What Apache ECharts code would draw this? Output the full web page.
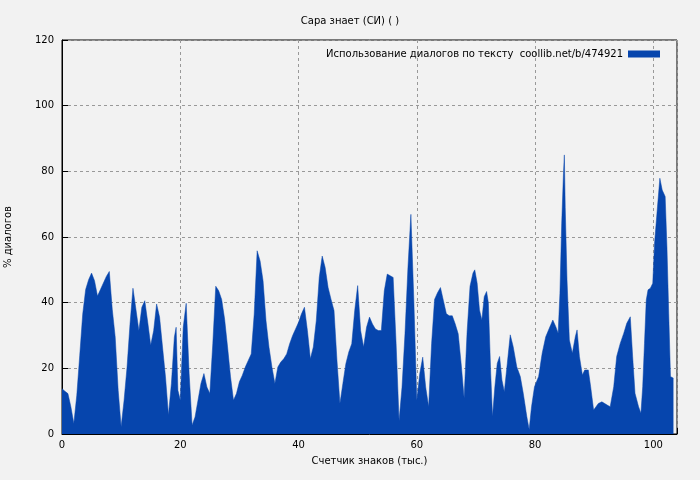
<!DOCTYPE html>
<html>
<head>
<meta charset="utf-8">
<script src="https://cdn.jsdelivr.net/npm/echarts@6/dist/echarts.min.js"></script>
<style>
  html, body { margin: 0; padding: 0; background: #f2f2f2; }
  #chart { width: 700px; height: 480px; }
</style>
</head>
<body>
<div id="chart"></div>
<script>
// x positions (thousands of characters) and dialogue share (%)
var xs = [0, 0.5, 1, 1.5, 2, 2.5, 3, 3.5, 4, 4.5, 5, 5.5, 6, 6.5, 7, 7.5, 8, 8.5, 9, 9.5,
    10, 10.5, 11, 11.5, 12, 12.5, 13, 13.5, 14, 14.5, 15, 15.5, 16, 16.5, 17, 17.5, 18, 18.5, 19, 19.3, 19.6,
    20, 20.5, 21, 21.5, 22, 22.5, 23, 23.5, 24, 24.5, 25, 25.5, 26, 26.5, 27, 27.5, 28, 28.5, 29, 29.5,
    30, 30.5, 31, 31.5, 32, 32.5, 33, 33.5, 34, 34.5, 35, 35.5, 36, 36.5, 37, 37.5, 38, 38.5, 39, 39.5,
    40, 40.5, 41, 41.5, 42, 42.5, 43, 43.5, 44, 44.5, 45, 45.5, 46, 46.5, 47, 47.5, 48, 48.5, 49, 49.5,
    50, 50.5, 51, 51.5, 52, 52.5, 53, 53.5, 54, 54.5, 55, 55.5, 56, 56.5, 57, 57.5, 58, 58.5, 59, 59.5,
    60, 60.5, 61, 61.5, 62, 62.5, 63, 63.5, 64, 64.5, 65, 65.5, 66, 66.5, 67, 67.5, 68,
    68.5, 69, 69.5, 69.8, 70.2, 70.6, 71, 71.4, 71.8, 72.1, 72.5, 72.8, 73.2, 73.6, 74, 74.4, 74.8,
    75.3, 75.8, 76.3, 76.9, 77.5, 78, 78.6, 79, 79.4, 79.9, 80.6, 81.2, 81.8, 82.4, 83, 83.5, 83.9,
    84.2, 84.5, 84.8, 84.95, 85.1, 85.4, 85.8, 86.3, 86.8, 87.1, 87.5, 88, 88.4, 89, 89.4, 89.9,
    90.7, 91.3, 92.2, 92.7, 93.3, 93.8, 94.4, 95, 95.5, 96.1, 96.5, 96.9, 97.5, 97.9, 98.2, 98.5,
    98.8, 99.1, 99.5, 99.9, 100.2, 100.7, 101.1, 101.5, 102, 102.3, 102.6, 102.9, 103.4];
var ys = [13.8, 13, 12.3, 8.3, 3.2, 11.8, 24, 36.5, 44, 47, 49, 46.7, 42, 44, 46, 48, 49.5, 38, 29.5, 13.3,
    2.2, 10.3, 20.4, 33.5, 44.4, 38, 31.5, 38.6, 40.6, 34, 27, 31.5, 39.6, 35.6, 26.5, 17.4, 5.8, 15.4, 29.5, 32.5, 13.3,
    10.3, 32.5, 39.8, 18.4, 2.7, 5.2, 10.3, 15.4, 18.4, 14.3, 12.3, 27.5, 45, 43.6, 41, 35, 26.5, 17.4, 10.3, 12.3,
    15.9, 17.9, 20.4, 22.4, 24.4, 36.5, 55.8, 52.7, 46.7, 34.5, 26.5, 20.4, 15.4, 20.4, 21.9, 22.9, 24.4, 27.5, 30, 32,
    34, 36.6, 38.6, 31.5, 22.9, 26.5, 34.5, 47.7, 54.2, 50.7, 44.6, 41, 37.6, 22.4, 9.3, 15.4, 21.4, 25, 27.5, 37.6,
    45.2, 31.5, 26.5, 32.5, 35.6, 33.5, 32, 31.5, 31.5, 43.6, 48.7, 48.2, 47.7, 27.5, 4, 14.3, 30.5, 50.7, 66.9, 40.6,
    10.3, 18.4, 23.4, 14.3, 8.3, 27.5, 41, 43, 44.6, 40.6, 36.6, 36, 36, 33.5, 30.5, 21.4, 11,
    31, 45, 49, 50, 46, 37.8, 34.7, 41.8, 43.4, 40, 18.5, 5.3, 14.4, 21.5, 23.6, 16.4, 12.9,
    21.5, 30.2, 26.6, 20.5, 17.5, 12.4, 5.3, 1.4, 8.3, 14.4, 17.5, 24.6, 29.6, 32.2, 34.7, 32.7, 30.7,
    42.8, 64, 79.4, 85, 69, 47, 28.6, 24.6, 29.6, 31.7, 23.6, 18, 19.5, 19.5, 14.4, 7.3,
    9.3, 9.8, 8.8, 8.3, 14.4, 23.6, 27.6, 30.7, 33.7, 35.7, 23.6, 12.4, 8.3, 6.3, 14.4, 27.6,
    40.8, 43.9, 44.4, 45.9, 58, 69.2, 77.9, 74.3, 72.3, 57, 36.8, 17.5, 17];

var titleText = 'Сара знает (СИ) ( )';
var legendText = 'Использование диалогов по тексту  coollib.net/b/474921';
var blue = '#0645ad';
var font = 'DejaVu Sans';

var points = [];
for (var i = 0; i < xs.length; i++) {
    points.push([xs[i], ys[i]]);
}

var chart = echarts.init(document.getElementById('chart'));
chart.setOption({
    backgroundColor: '#f2f2f2',
    animation: false,
    textStyle: { fontFamily: font },
    title: {
        text: titleText, left: 'center', top: 11,
        textStyle: { fontSize: 10, fontWeight: 'normal', color: '#000', fontFamily: font }
    },
    legend: {
        right: 35, top: 44, itemWidth: 32, itemHeight: 7, itemGap: 8,
        align: 'right', icon: 'rect',
        textStyle: { fontSize: 10, color: '#000', fontFamily: font },
        data: [{ name: legendText }]
    },
    grid: { left: 62, right: 23, top: 40, bottom: 46, outerBoundsMode: 'none', containLabel: false,
        show: true, borderColor: '#000', borderWidth: 1 },
    xAxis: {
        type: 'value', min: 0, max: 104, interval: 20,
        name: 'Счетчик знаков (тыс.)', nameLocation: 'middle', nameGap: 22,
        nameTextStyle: { fontSize: 10, color: '#000' },
        axisLine: { lineStyle: { color: '#000' } },
        axisTick: { inside: true, length: 6, lineStyle: { color: '#000' } },
        axisLabel: { fontSize: 10, color: '#000', margin: 6,
            formatter: function (v) { return v % 20 === 0 ? v : ''; } },
        splitLine: { lineStyle: { type: [3, 3], color: '#999' } }
    },
    yAxis: {
        type: 'value', min: 0, max: 120, interval: 20,
        name: '% диалогов', nameLocation: 'middle', nameGap: 49,
        nameTextStyle: { fontSize: 10, color: '#000' },
        axisLine: { show: true, lineStyle: { color: '#000' } },
        axisTick: { show: true, inside: true, length: 6, lineStyle: { color: '#000' } },
        axisLabel: { fontSize: 10, color: '#000', margin: 8 },
        splitLine: { lineStyle: { type: [3, 3], color: '#999' } }
    },
    series: [{
        name: legendText,
        type: 'line',
        data: points,
        showSymbol: false,
        symbol: 'none',
        itemStyle: { color: blue },
        lineStyle: { width: 0.5, color: blue },
        areaStyle: { color: blue, opacity: 1 }
    }]
});
</script>
</body>
</html>
